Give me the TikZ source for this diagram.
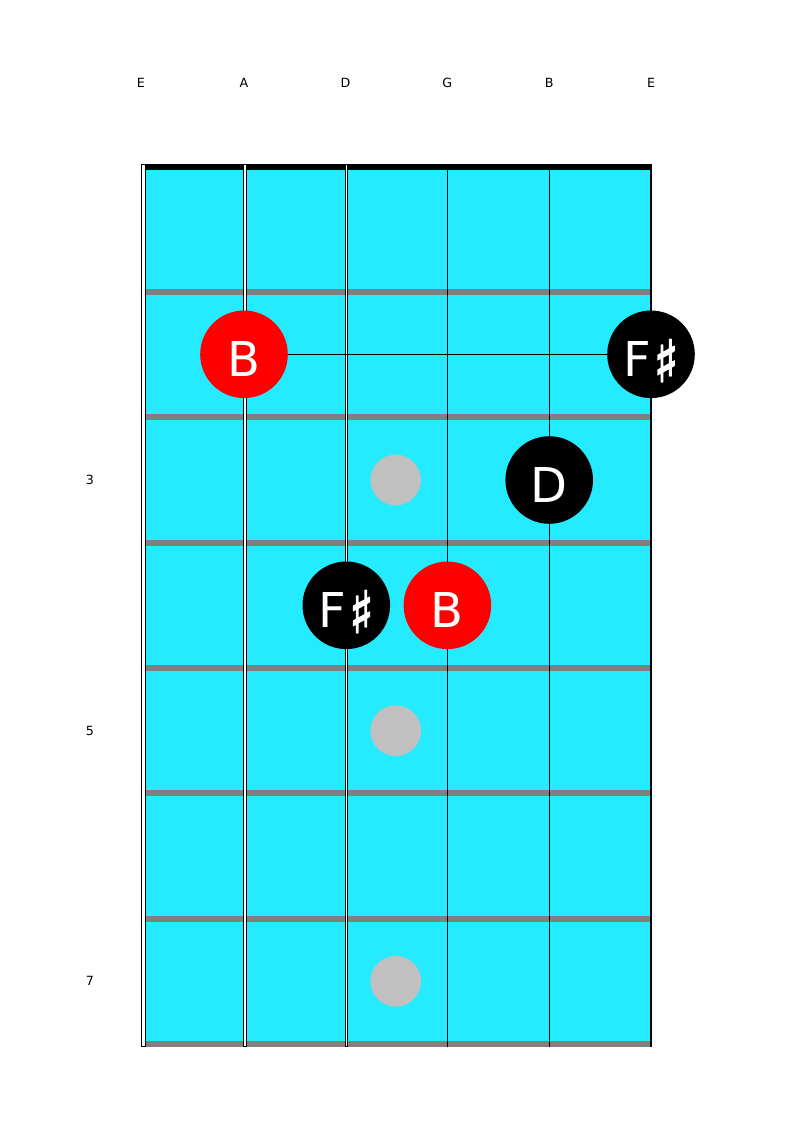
\documentclass[tikz,border=0pt]{standalone}
\usepackage{fontspec}
\setmainfont{DejaVu Sans}
\newfontfamily\sharpfont[FakeBold=3]{DejaVu Sans}
\definecolor{board}{HTML}{24EBFF}
\definecolor{fretgray}{HTML}{808080}
\definecolor{markgray}{HTML}{C0C0C0}
\definecolor{notered}{HTML}{FF0000}
\newcommand{\mysharp}{\hspace{2pt}\raisebox{-4pt}{\scalebox{1.05}[1.2]{\sharpfont ♯}}}
\begin{document}
\begin{tikzpicture}[x=0.75pt,y=-0.75pt,
  strlabel/.style={font=\fontsize{9.5}{11}\selectfont,inner sep=0pt},
  fretline/.style={draw=fretgray,line width=4.5pt},
  nutline/.style={draw=black,line width=4.5pt},
  marker/.style={circle,fill=markgray,minimum size=38pt,inner sep=0pt},
  notedot/.style={circle,fill=#1,minimum size=65.7pt,inner sep=0pt,text=white,
    font=\fontsize{36}{40}\selectfont,text height=33pt,text depth=0pt},
  link/.style={draw=black,line width=1pt}]
\useasboundingbox (0,0) rectangle (792,1122);
% fretboard
\fill[board] (143,163.7) rectangle (651.5,1047);
% frets
\foreach \k in {1,...,7}{
  \draw[fretline] (145.7,{166.7+125.33*\k}) -- (651.5,{166.7+125.33*\k});
}
% nut
\draw[nutline] (145.7,166.7) -- (651.5,166.7);
% strings
\draw[black,line width=3.5pt] (143.3,164) -- (143.3,1046.7);
\draw[white,line width=2pt] (143.3,165) -- (143.3,1045.7);
\draw[black,line width=2.55pt] (245,164) -- (245,1046.7);
\draw[white,line width=1.05pt] (245,165) -- (245,1045.7);
\draw[black,line width=2pt] (346.3,164) -- (346.3,1046.7);
\draw[white,line width=0.7pt] (346.3,165) -- (346.3,1045.7);
\draw[black,line width=1pt] (447.4,164) -- (447.4,1046.7);
\draw[black,line width=1pt] (549.2,164) -- (549.2,1046.7);
\draw[black,line width=1pt] (651,164) -- (651,1046.7);
% string labels
\node[strlabel] (sE1) at (141,83) {E};
\node[strlabel] (sA) at (244,83) {A};
\node[strlabel] (sD) at (345.5,83) {D};
\node[strlabel] (sG) at (447.4,83) {G};
\node[strlabel] (sB) at (549.2,83) {B};
\node[strlabel] (sE2) at (651,83) {E};
% fret numbers
\node[strlabel] (f3) at (90,480) {3};
\node[strlabel] (f5) at (90,730.7) {5};
\node[strlabel] (f7) at (90,981.3) {7};
% markers
\node[marker] (m3) at (395.7,480) {};
\node[marker] (m5) at (395.7,730.7) {};
\node[marker] (m7) at (395.7,981.3) {};
% notes
\node[notedot=notered] (nB1) at (244,354.3) {B};
\node[notedot=black] (nF1) at (651,354.3) {F\mysharp};
\node[notedot=black] (nD) at (549.2,480) {D};
\node[notedot=black] (nF2) at (346.3,605.3) {F\mysharp};
\node[notedot=notered] (nB2) at (447.4,605.3) {B};
\draw[link] (nB1) -- (nF1);
\end{tikzpicture}
\end{document}
